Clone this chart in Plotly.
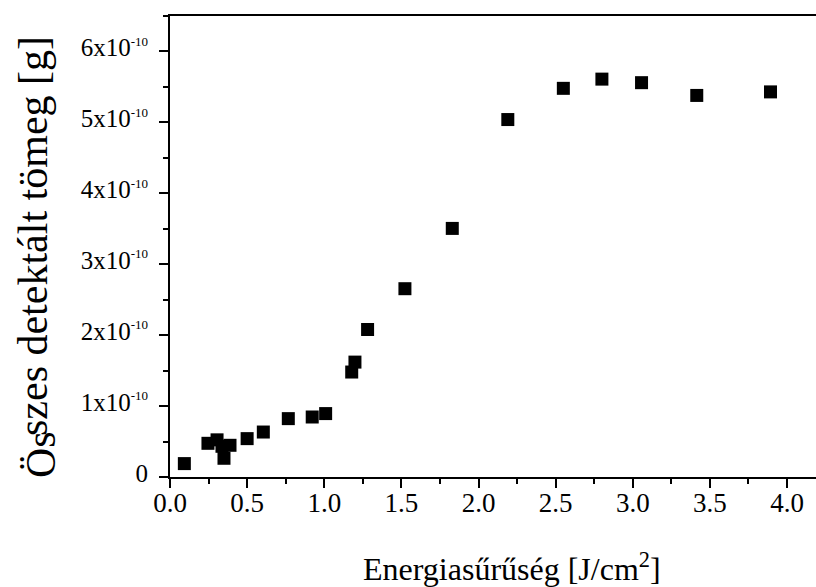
import plotly.graph_objects as go

# Energy density [J/cm^2]
energy = [0.093, 0.246, 0.305, 0.337, 0.350, 0.389, 0.500, 0.605, 0.767, 0.922,
          1.009, 1.178, 1.199, 1.281, 1.523, 1.830, 2.190, 2.550, 2.800, 3.057,
          3.415, 3.893]
# Total detected mass [g]
mass = [0.189e-10, 0.475e-10, 0.524e-10, 0.433e-10, 0.264e-10, 0.447e-10, 0.541e-10,
        0.634e-10, 0.823e-10, 0.846e-10, 0.894e-10, 1.480e-10, 1.620e-10, 2.080e-10,
        2.655e-10, 3.505e-10, 5.040e-10, 5.480e-10, 5.610e-10, 5.560e-10, 5.380e-10,
        5.430e-10]

x_ticks = [0.0, 0.5, 1.0, 1.5, 2.0, 2.5, 3.0, 3.5, 4.0]
x_tick_labels = ["0.0", "0.5", "1.0", "1.5", "2.0", "2.5", "3.0", "3.5", "4.0"]
y_ticks = [0, 1e-10, 2e-10, 3e-10, 4e-10, 5e-10, 6e-10]
y_tick_labels = ["0"] + [f"{k}x10<sup><span style='font-size:13px'>-10</span></sup>" for k in range(1, 7)]

FONT = "Liberation Serif"

fig = go.Figure()
fig.add_trace(go.Scatter(
    x=energy, y=mass, mode="markers",
    marker=dict(symbol="square", size=13, color="black", line=dict(width=0)),
    showlegend=False, cliponaxis=False,
))

fig.update_layout(
    width=816, height=587,
    margin=dict(l=170, r=0, t=16, b=110, pad=0),
    paper_bgcolor="white", plot_bgcolor="white",
    template="none",
    font=dict(family=FONT, color="black"),
    xaxis=dict(
        range=[0, 4.188], showgrid=False, zeroline=False,
        showline=True, linecolor="black", linewidth=2, mirror=True,
        ticks="outside", ticklen=9, tickwidth=2, tickcolor="black",
        tickvals=x_ticks, ticktext=x_tick_labels, ticklabelstandoff=-8,
        tickfont=dict(family=FONT, size=27, color="black"),
        minor=dict(ticks="outside", ticklen=5, tickwidth=2, tickcolor="black", dtick=0.25, showgrid=False),
    ),
    yaxis=dict(
        range=[0, 6.5e-10], showgrid=False, zeroline=False,
        showline=True, linecolor="black", linewidth=2, mirror=False,
        ticks="outside", ticklen=9, tickwidth=2, tickcolor="black",
        tickvals=y_ticks, ticktext=y_tick_labels, ticklabelstandoff=6, ticklabelshift=-4,
        tickfont=dict(family=FONT, size=25, color="black"),
        minor=dict(ticks="outside", ticklen=5, tickwidth=2, tickcolor="black", dtick=0.5e-10, showgrid=False),
    ),
)

PW, PH, PL, PB = 646, 461, 170, 477  # plot area geometry used to place the titles


def px(x):
    return (x - PL) / PW


def py(y):
    return (PB - y) / PH


# axis titles (the y title keeps the raised text of the original)
fig.add_annotation(text="Energiasűrűség [J/cm<sup>2</sup>]", xref="paper", yref="paper",
                   x=px(512), y=py(567), xanchor="center", yanchor="middle",
                   showarrow=False, font=dict(family=FONT, size=32, color="black"))
fig.add_annotation(text="Ös", xref="paper", yref="paper", textangle=-90,
                   x=px(41), y=py(455), xanchor="center", yanchor="middle",
                   showarrow=False, font=dict(family=FONT, size=42, color="black"))
fig.add_annotation(text="szes detektált tömeg [g]", xref="paper", yref="paper", textangle=-90,
                   x=px(33), y=py(236), xanchor="center", yanchor="middle",
                   showarrow=False, font=dict(family=FONT, size=42, color="black"))

# remove the default 8px page margin so the figure fills the window exactly
fig.write_html("out.html", config={"displayModeBar": False},
               post_script="document.body.style.margin='0';")
